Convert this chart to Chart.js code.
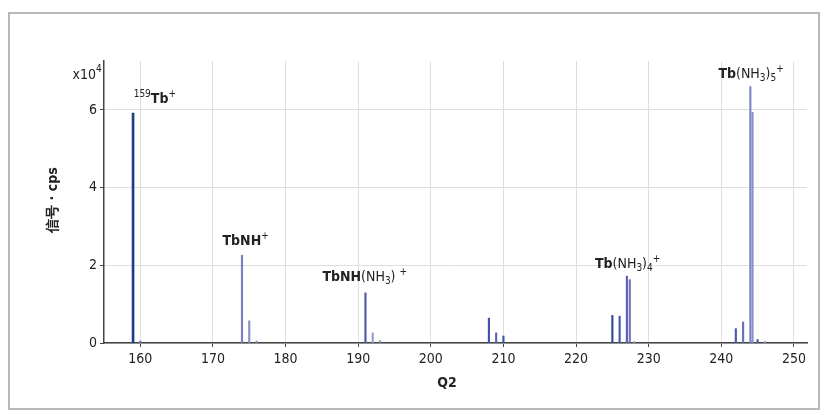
<!DOCTYPE html>
<html>
<head>
<meta charset="utf-8">
<script src="https://cdn.jsdelivr.net/npm/chart.js@4"></script>
<style>
  body { margin: 0; background: #fff; }
  canvas { display: block; }
</style>
</head>
<body>
<canvas id="spectrum" width="828" height="419"></canvas>
<script>
// m/z positions (Q2) and signal (cps)
const mz = [159, 160, 174, 175, 176, 191, 192, 193, 208, 209, 210, 225, 226, 227, 227.4, 228, 242, 243, 244, 244.3, 245, 246];
const signal = [59200, 500, 22600, 5700, 500, 12900, 2600, 600, 6400, 2600, 1800, 7100, 6900, 17200, 16300, 400, 3700, 5400, 66000, 59400, 900, 400];
const xTicks = [160, 170, 180, 190, 200, 210, 220, 230, 240, 250];
const yTicks = [0, 20000, 40000, 60000];

// bar colours, one per peak
const barColors = ["#1f3d84", "#6a72b8", "#7b80c2", "#8a8fcc", "#8a8fcc", "#4d5aa8", "#9a9ed2", "#8a8fcc",
  "#3f55a6", "#5a66b2", "#3f55a6", "#2e4a9c", "#4a58a8", "#5963b2", "#7077bc", "#a0a4d4",
  "#4c58a8", "#6a72b8", "#7f86c6", "#8a90cc", "#4c58a8", "#9a9ed2"];

// peak labels: [x, y, parts]
const peakLabels = [
  [162.0, 61800, [{t: "159", s: "sup"}, {t: "Tb"}, {t: "+", s: "sup"}]],
  [174.5, 25200, [{t: "TbNH"}, {t: "+", s: "sup"}]],
  [190.9, 15900, [{t: "TbNH"}, {t: "(NH", n: 1}, {t: "3", s: "sub"}, {t: ") ", n: 1}, {t: "+", s: "sup"}]],
  [227.1, 19300, [{t: "Tb"}, {t: "(NH", n: 1}, {t: "3", s: "sub"}, {t: ")", n: 1}, {t: "4", s: "sub"}, {t: "+", s: "sup"}]],
  [244.1, 68300, [{t: "Tb"}, {t: "(NH", n: 1}, {t: "3", s: "sub"}, {t: ")", n: 1}, {t: "5", s: "sub"}, {t: "+", s: "sup"}]]
];

const FONT = "'Liberation Sans Narrow', 'DejaVu Sans Condensed', 'Roboto', sans-serif";

function richText(ctx, parts, cx, baseline, size) {
  const fontFor = p => {
    const sz = p.s ? Math.round(size * 0.68) : size;
    return (p.n || p.s ? "" : "bold ") + sz + "px " + FONT;
  };
  let total = 0;
  parts.forEach(p => { ctx.font = fontFor(p); total += ctx.measureText(p.t).width; });
  let x = cx - total / 2;
  ctx.textAlign = "left";
  ctx.textBaseline = "alphabetic";
  parts.forEach(p => {
    ctx.font = fontFor(p);
    let y = baseline;
    if (p.s === "sup") y -= size * 0.42;
    if (p.s === "sub") y += size * 0.22;
    ctx.fillText(p.t, x, y);
    x += ctx.measureText(p.t).width;
  });
}

const decorations = {
  id: "decorations",
  afterDraw(chart) {
    const ctx = chart.ctx;
    const xs = chart.scales.x, ys = chart.scales.y;
    ctx.save();
    // outer frame
    ctx.strokeStyle = "#b8b8b8";
    ctx.lineWidth = 2;
    ctx.strokeRect(9, 13, 810, 396);

    ctx.fillStyle = "#222";
    peakLabels.forEach(l => {
      richText(ctx, l[2], xs.getPixelForValue(l[0]), ys.getPixelForValue(l[1]), 14);
    });

    // exponent label
    ctx.font = "14px " + FONT;
    ctx.textAlign = "right";
    ctx.textBaseline = "alphabetic";
    ctx.fillText("x10", 96, 79);
    ctx.font = "10px " + FONT;
    ctx.textAlign = "left";
    ctx.fillText("4", 96, 72);

    // axis titles
    ctx.font = "bold 14px " + FONT;
    ctx.textAlign = "center";
    ctx.textBaseline = "middle";
    ctx.fillText("Q2", 447, 383);
    ctx.translate(53, 200);
    ctx.rotate(-Math.PI / 2);
    ctx.fillText("信号 · cps", 0, 0);
    ctx.restore();
  }
};

const thick = [0];
function makeSet(keep, thickness) {
  const idx = mz.map((_, i) => i).filter(keep);
  return {
    data: idx.map(i => ({x: mz[i], y: signal[i]})),
    backgroundColor: idx.map(i => barColors[i]),
    barThickness: thickness,
    grouped: false
  };
}

new Chart(document.getElementById("spectrum"), {
  type: "bar",
  data: {
    datasets: [
      makeSet(i => thick.includes(i), 2),
      makeSet(i => !thick.includes(i), 1.5)
    ]
  },
  options: {
    responsive: false,
    animation: false,
    layout: { padding: { left: 0, top: 61, right: 21, bottom: 0 } },
    plugins: { legend: { display: false }, tooltip: { enabled: false } },
    scales: {
      x: {
        type: "linear",
        min: 155,
        max: 251.8,
        offset: false,
        afterBuildTicks: s => { s.ticks = xTicks.map(v => ({value: v})); },
        afterFit: s => { s.height = 76; },
        grid: { offset: false, color: "#dedede", tickColor: "#444", tickLength: 4, lineWidth: 1 },
        border: { color: "#444", width: 1.5 },
        ticks: { color: "#222", padding: 4, autoSkip: false, font: { family: FONT, size: 14 }, maxRotation: 0 }
      },
      y: {
        min: 0,
        max: 72600,
        afterBuildTicks: s => { s.ticks = yTicks.map(v => ({value: v})); },
        afterFit: s => { s.width = 104; },
        grid: { color: "#dedede", tickColor: "#444", tickLength: 4, lineWidth: 1 },
        border: { color: "#444", width: 1.5 },
        ticks: { color: "#222", padding: 3, font: { family: FONT, size: 14 }, callback: v => v / 10000 }
      }
    }
  },
  plugins: [decorations]
});
</script>
</body>
</html>
